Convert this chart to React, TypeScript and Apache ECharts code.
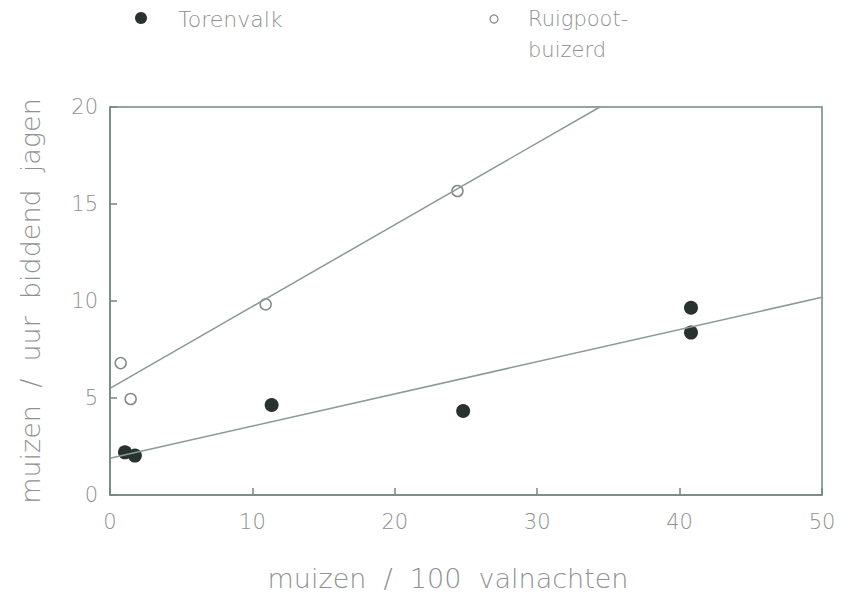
import React, { useEffect, useRef } from "react";
import * as echarts from "echarts";

// Observed hunting yield per species: [mice per 100 trap-nights, mice per hour of hover-hunting]
const torenvalkPoints: [number, number][] = [
  [1.05, 2.2],
  [1.75, 2.03],
  [11.35, 4.64],
  [24.8, 4.33],
  [40.8, 9.65],
  [40.8, 8.37],
];
const ruigpootPoints: [number, number][] = [
  [0.75, 6.8],
  [1.45, 4.95],
  [10.93, 9.83],
  [24.4, 15.67],
];

// Fitted regression lines (end points)
const torenvalkFit: [number, number][] = [
  [0, 1.89],
  [50, 10.19],
];
const ruigpootFit: [number, number][] = [
  [0, 5.5],
  [34.4, 20],
];

const xTicks = [0, 10, 20, 30, 40, 50];
const yTicks = [0, 5, 10, 15, 20];

const legendNames = ["Torenvalk", "Ruigpoot-", "buizerd"];
const xAxisTitle = "muizen  /  100  valnachten";
const yAxisTitle = "muizen  /  uur  biddend  jagen";

const FONT = "'DejaVu Sans', sans-serif";
const TEXT = "#8e9190";
const FRAME = "#728880";
const LINE = "#8a9a95";

export default function App() {
  const ref = useRef<HTMLDivElement>(null);

  useEffect(() => {
    if (!ref.current) return;
    const chart = echarts.init(ref.current, null, { renderer: "svg" });
    chart.setOption({
      animation: false,
      backgroundColor: "#ffffff",
      grid: {
        left: 110,
        right: 26,
        top: 107,
        bottom: 107,
        show: true,
        borderColor: FRAME,
        borderWidth: 1.5,
        backgroundColor: "transparent",
      },
      xAxis: {
        type: "value",
        min: xTicks[0],
        max: xTicks[xTicks.length - 1],
        interval: 10,
        name: xAxisTitle,
        nameLocation: "middle",
        nameGap: 70,
        nameTextStyle: {
          fontFamily: FONT,
          fontWeight: 200,
          fontSize: 27,
          color: TEXT,
          padding: [0, 36, 0, 0],
        },
        axisLine: { show: true, onZero: false, lineStyle: { color: FRAME, width: 1.5 } },
        axisTick: { show: true, inside: true, length: 7, lineStyle: { color: FRAME, width: 1.5 } },
        axisLabel: { fontFamily: FONT, fontWeight: 200, fontSize: 21, color: TEXT, margin: 16 },
        splitLine: { show: false },
        z: 10,
      },
      yAxis: {
        type: "value",
        min: yTicks[0],
        max: yTicks[yTicks.length - 1],
        interval: 5,
        name: yAxisTitle,
        nameLocation: "middle",
        nameRotate: 90,
        nameGap: 66,
        nameTextStyle: { fontFamily: FONT, fontWeight: 200, fontSize: 27, color: TEXT },
        axisLine: { show: true, onZero: false, lineStyle: { color: FRAME, width: 1.5 } },
        axisTick: { show: true, inside: true, length: 7, lineStyle: { color: FRAME, width: 1.5 } },
        axisLabel: { fontFamily: FONT, fontWeight: 200, fontSize: 21, color: TEXT, margin: 12 },
        splitLine: { show: false },
        z: 10,
      },
      series: [
        {
          name: "fit-torenvalk",
          type: "line",
          data: torenvalkFit,
          symbol: "none",
          lineStyle: { color: LINE, width: 1.5 },
          silent: true,
        },
        {
          name: "fit-ruigpoot",
          type: "line",
          data: ruigpootFit,
          symbol: "none",
          lineStyle: { color: LINE, width: 1.5 },
          silent: true,
        },
        {
          name: legendNames[0],
          type: "scatter",
          data: torenvalkPoints,
          symbol: "circle",
          symbolSize: 14,
          itemStyle: { color: "#28332f", opacity: 1 },
        },
        {
          name: legendNames[1] + legendNames[2],
          type: "scatter",
          data: ruigpootPoints,
          symbol: "circle",
          symbolSize: 11,
          itemStyle: { color: "#ffffff", borderColor: "#858a88", borderWidth: 1.5, opacity: 1 },
        },
      ],
      graphic: [
        {
          type: "circle",
          shape: { cx: 141, cy: 18, r: 6 },
          style: { fill: "#28332f" },
        },
        {
          type: "text",
          x: 178,
          y: 19,
          style: {
            text: legendNames[0],
            font: `200 22px ${FONT}`,
            fill: TEXT,
            verticalAlign: "middle",
          },
        },
        {
          type: "circle",
          shape: { cx: 494, cy: 19, r: 4 },
          style: { fill: "#ffffff", stroke: "#858a88", lineWidth: 1.3 },
        },
        {
          type: "text",
          x: 528,
          y: 19,
          style: {
            text: legendNames[1],
            font: `200 21px ${FONT}`,
            fill: TEXT,
            verticalAlign: "middle",
          },
        },
        {
          type: "text",
          x: 528,
          y: 50,
          style: {
            text: legendNames[2],
            font: `200 21px ${FONT}`,
            fill: TEXT,
            verticalAlign: "middle",
          },
        },
      ],
    });
    return () => chart.dispose();
  }, []);

  return <div ref={ref} style={{ width: 848, height: 602, position: "absolute", left: 0, top: 0 }} />;
}
